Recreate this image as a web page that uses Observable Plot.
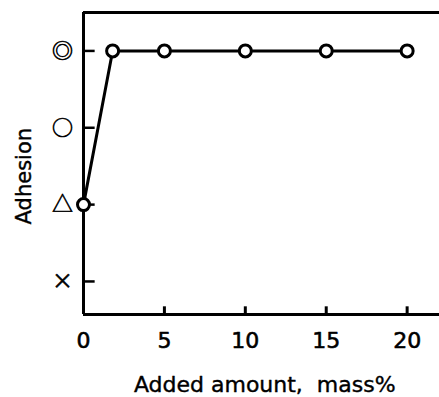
<!DOCTYPE html>
<html><head><meta charset="utf-8">
<script src="https://cdn.jsdelivr.net/npm/d3@7"></script>
<script src="https://cdn.jsdelivr.net/npm/@observablehq/plot@0.6"></script>
<style>
body{margin:0;background:#fff;}
#chart svg{display:block;}
</style>
</head><body><div id="chart"></div>
<script>
const amounts = [0, 1.8, 5, 10, 15, 20];
const adhesion = [1, 3, 3, 3, 3, 3];
const yLevels = [0, 1, 2, 3];
const yLabels = ["×", "△", "○", "◎"];
const xTicks = [0, 5, 10, 15, 20];
const xTitle = "Added amount,  mass%";
const yTitle = "Adhesion";

const data = amounts.map((a, i) => ({x: a, y: adhesion[i]}));
const yDom = [-0.43, 3.5];
const xDom = [0, 22];

const plot = Plot.plot({
  width: 439, height: 397,
  marginLeft: 83, marginRight: 0, marginTop: 12, marginBottom: 83,
  x: {type: "linear", domain: xDom, axis: null},
  y: {type: "linear", domain: yDom, axis: null},
  style: {background: "#fff", fontFamily: "DejaVu Sans, sans-serif"},
  marks: [
    Plot.ruleX([0], {y1: yDom[0], y2: yDom[1], stroke: "#000", strokeWidth: 3}),
    Plot.ruleY([yDom[0], yDom[1]], {x1: 0, x2: xDom[1], stroke: "#000", strokeWidth: 3}),
    Plot.ruleY(yLevels, {x1: 0, x2: 0.72, stroke: "#000", strokeWidth: 2.5}),
    Plot.ruleX(xTicks.filter(d => d > 0), {y1: yDom[0], y2: yDom[0] + 0.1, stroke: "#000", strokeWidth: 3}),
    Plot.text(yLevels, {x: 0, y: d => d, text: (d, i) => yLabels[i], dx: -21, textAnchor: "middle",
      fontSize: 21, fontFamily: "Noto Sans CJK JP", fill: "#000", lineAnchor: "middle", stroke: "#000", strokeWidth: 0.6}),
    Plot.text(xTicks, {x: d => d, y: yDom[0], text: d => String(d), dy: 26, fontSize: 22, fill: "#000", lineAnchor: "middle", stroke: "#000", strokeWidth: 0.6}),
    Plot.text([xTitle], {x: 11.2, y: yDom[0], text: d => d, dy: 70, fontSize: 22, fill: "#000", lineAnchor: "middle", stroke: "#000", strokeWidth: 0.4}),
    Plot.text([yTitle], {x: 0, y: 1.37, text: d => d, dx: -59, rotate: -90, fontSize: 21, fill: "#000", lineAnchor: "middle", stroke: "#000", strokeWidth: 0.4}),
    Plot.line(data, {x: "x", y: "y", stroke: "#000", strokeWidth: 3}),
    Plot.dot(data, {x: "x", y: "y", r: 6, fill: "#fff", stroke: "#000", strokeWidth: 3})
  ]
});
document.getElementById("chart").appendChild(plot);
</script>
</body></html>
